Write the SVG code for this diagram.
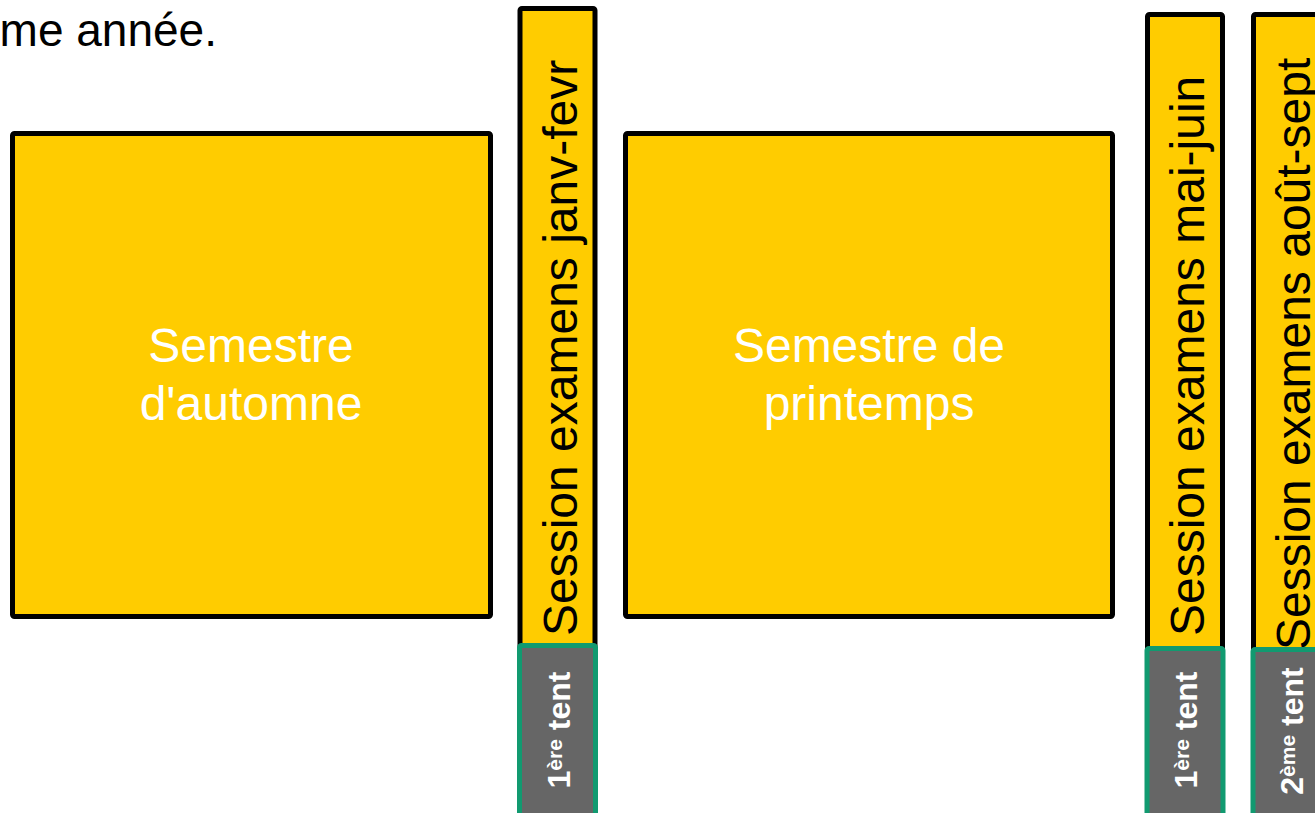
<svg xmlns="http://www.w3.org/2000/svg" width="1315" height="813" viewBox="0 0 1315 813">
<style>
.box{fill:#FFCC00;stroke:#000;stroke-width:5}
.bar{fill:#FFCC00;stroke:#000;stroke-width:5}
.try{fill:#666666;stroke:#119A70;stroke-width:5}
.sem{font-family:"Liberation Sans",Arial,sans-serif;font-size:48px;fill:#fff;text-anchor:middle}
.ses{font-family:"Liberation Sans",Arial,sans-serif;font-size:48px;fill:#000}
.lab{font-family:"Liberation Sans",Arial,sans-serif;font-size:32px;font-weight:bold;fill:#fff;text-anchor:middle}
.top{font-family:"Liberation Sans",Arial,sans-serif;font-size:46px;fill:#000;text-anchor:end}
</style>
<rect width="1315" height="813" fill="#fff"/>
<text class="top" x="217" y="46">me année.</text>
<g id="automne">
<rect class="box" x="12.5" y="133.5" width="478" height="483" rx="2"/>
<text class="sem" x="251" y="362">Semestre</text>
<text class="sem" x="251" y="420">d'automne</text>
</g>
<g id="printemps">
<rect class="box" x="625.5" y="133.5" width="487" height="483" rx="2"/>
<text class="sem" x="869" y="362">Semestre de</text>
<text class="sem" x="869" y="420">printemps</text>
</g>
<g id="janv-fevr">
<rect class="bar" x="520" y="8.5" width="75" height="650" rx="2"/>
<text class="ses" transform="translate(577,636) rotate(-90)">Session examens janv-fevr</text>
<rect class="try" x="519.5" y="645.5" width="76" height="180" rx="2"/>
<text class="lab" transform="translate(570,730) rotate(-90)">1<tspan font-size="21" dy="-8">ère</tspan><tspan dy="8"> tent</tspan></text>
</g>
<g id="mai-juin">
<rect class="bar" x="1147.5" y="14.5" width="75" height="645" rx="2"/>
<text class="ses" transform="translate(1204,636) rotate(-90)">Session examens mai-juin</text>
<rect class="try" x="1147" y="648.5" width="76" height="180" rx="2"/>
<text class="lab" transform="translate(1197,730) rotate(-90)">1<tspan font-size="21" dy="-8">ère</tspan><tspan dy="8"> tent</tspan></text>
</g>
<g id="aout-sept">
<rect class="bar" x="1253.5" y="14.5" width="75" height="645" rx="2"/>
<text class="ses" transform="translate(1310,650) rotate(-90)">Session examens août-sept</text>
<rect class="try" x="1253" y="649.5" width="76" height="180" rx="2"/>
<text class="lab" transform="translate(1303,731) rotate(-90)">2<tspan font-size="21" dy="-8">ème</tspan><tspan dy="8">  tent</tspan></text>
</g>
<g id="connectors"></g>
</svg>
